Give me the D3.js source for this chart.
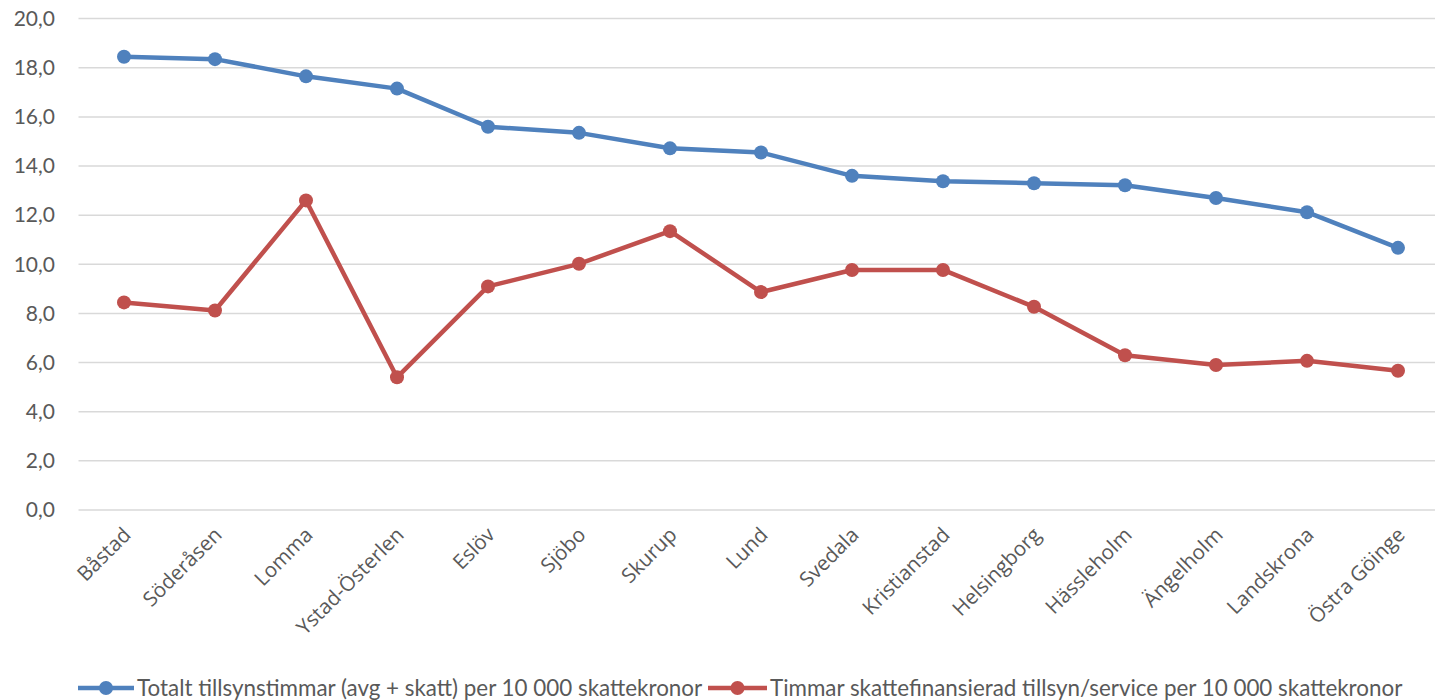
<!DOCTYPE html>
<html><head><meta charset="utf-8">
<script src="https://cdn.jsdelivr.net/npm/d3@7"></script>
<style>body{margin:0;background:#fff}svg{display:block}</style>
</head><body>
<svg id="c" width="1435" height="700"></svg>
<script>
const categories = ["Båstad","Söderåsen","Lomma","Ystad-Österlen","Eslöv","Sjöbo","Skurup","Lund","Svedala","Kristianstad","Helsingborg","Hässleholm","Ängelholm","Landskrona","Östra Göinge"];
const totalValues = [18.45,18.35,17.65,17.15,15.6,15.35,14.72,14.55,13.6,13.38,13.3,13.22,12.7,12.12,10.67];
const taxValues = [8.45,8.12,12.6,5.4,9.1,10.02,11.35,8.87,9.77,9.77,8.27,6.3,5.9,6.07,5.67];
const yTicks = [0,2,4,6,8,10,12,14,16,18,20];
const seriesNames = ["Totalt tillsynstimmar (avg + skatt) per 10 000 skattekronor","Timmar skattefinansierad tillsyn/service per 10 000 skattekronor"];
const colors = ["#4F81BD","#C0504D"];

const svg = d3.select("#c");
const x = d3.scaleBand().domain(categories).range([78.5,1443.5]);
const y = d3.scaleLinear().domain([0,20]).range([510,18.6]);
const font = "'Open Sans', sans-serif";
const font2 = "Lato, 'Open Sans', sans-serif";

// gridlines
svg.append("g").selectAll("line").data(yTicks).join("line")
  .attr("x1",78.5).attr("x2",1435).attr("y1",d=>y(d)).attr("y2",d=>y(d))
  .attr("stroke","#d9d9d9").attr("stroke-width",1.5);

// y axis labels
const yAxis = d3.axisLeft(y).tickValues(yTicks).tickSize(0).tickPadding(0)
  .tickFormat(d=>d.toFixed(1).replace(".",","));
const ya = svg.append("g").attr("transform","translate(55,0)").call(yAxis);
ya.select(".domain").remove();
ya.selectAll("text").attr("font-family",font2).attr("font-size",21).attr("fill","#595959");

// x axis labels
const xAxis = d3.axisBottom(x).tickSize(0).tickPadding(0);
const xa = svg.append("g").attr("transform","translate(0,522)").call(xAxis);
xa.select(".domain").remove();
xa.selectAll("text").attr("font-family",font).attr("font-size",20.5).attr("fill","#595959")
  .attr("text-anchor","end").attr("dy","0.35em")
  .attr("transform","translate(3,9) rotate(-45)");

const series = [totalValues, taxValues];
const line = d3.line().x((d,i)=>x(categories[i])+x.bandwidth()/2).y(d=>y(d));
series.forEach((vals,si)=>{
  svg.append("path").datum(vals).attr("d",line).attr("fill","none")
    .attr("stroke",colors[si]).attr("stroke-width",4.5).attr("stroke-linejoin","round");
  svg.append("g").selectAll("circle").data(vals).join("circle")
    .attr("cx",(d,i)=>x(categories[i])+x.bandwidth()/2).attr("cy",d=>y(d))
    .attr("r",7).attr("fill",colors[si]);
});

// legend
const legendItems = [{x0:78,x1:134,tx:137},{x0:708,x1:767,tx:770}];
legendItems.forEach((it,i)=>{
  const g = svg.append("g");
  g.append("line").attr("x1",it.x0).attr("x2",it.x1).attr("y1",688).attr("y2",688)
    .attr("stroke",colors[i]).attr("stroke-width",4.5);
  g.append("circle").attr("cx",(it.x0+it.x1)/2).attr("cy",688).attr("r",7).attr("fill",colors[i]);
  g.append("text").attr("x",it.tx).attr("y",688).attr("dy","0.35em")
    .attr("font-family",font2).attr("font-size",22.4).attr("fill","#595959").text(seriesNames[i]);
});
</script>
</body></html>
